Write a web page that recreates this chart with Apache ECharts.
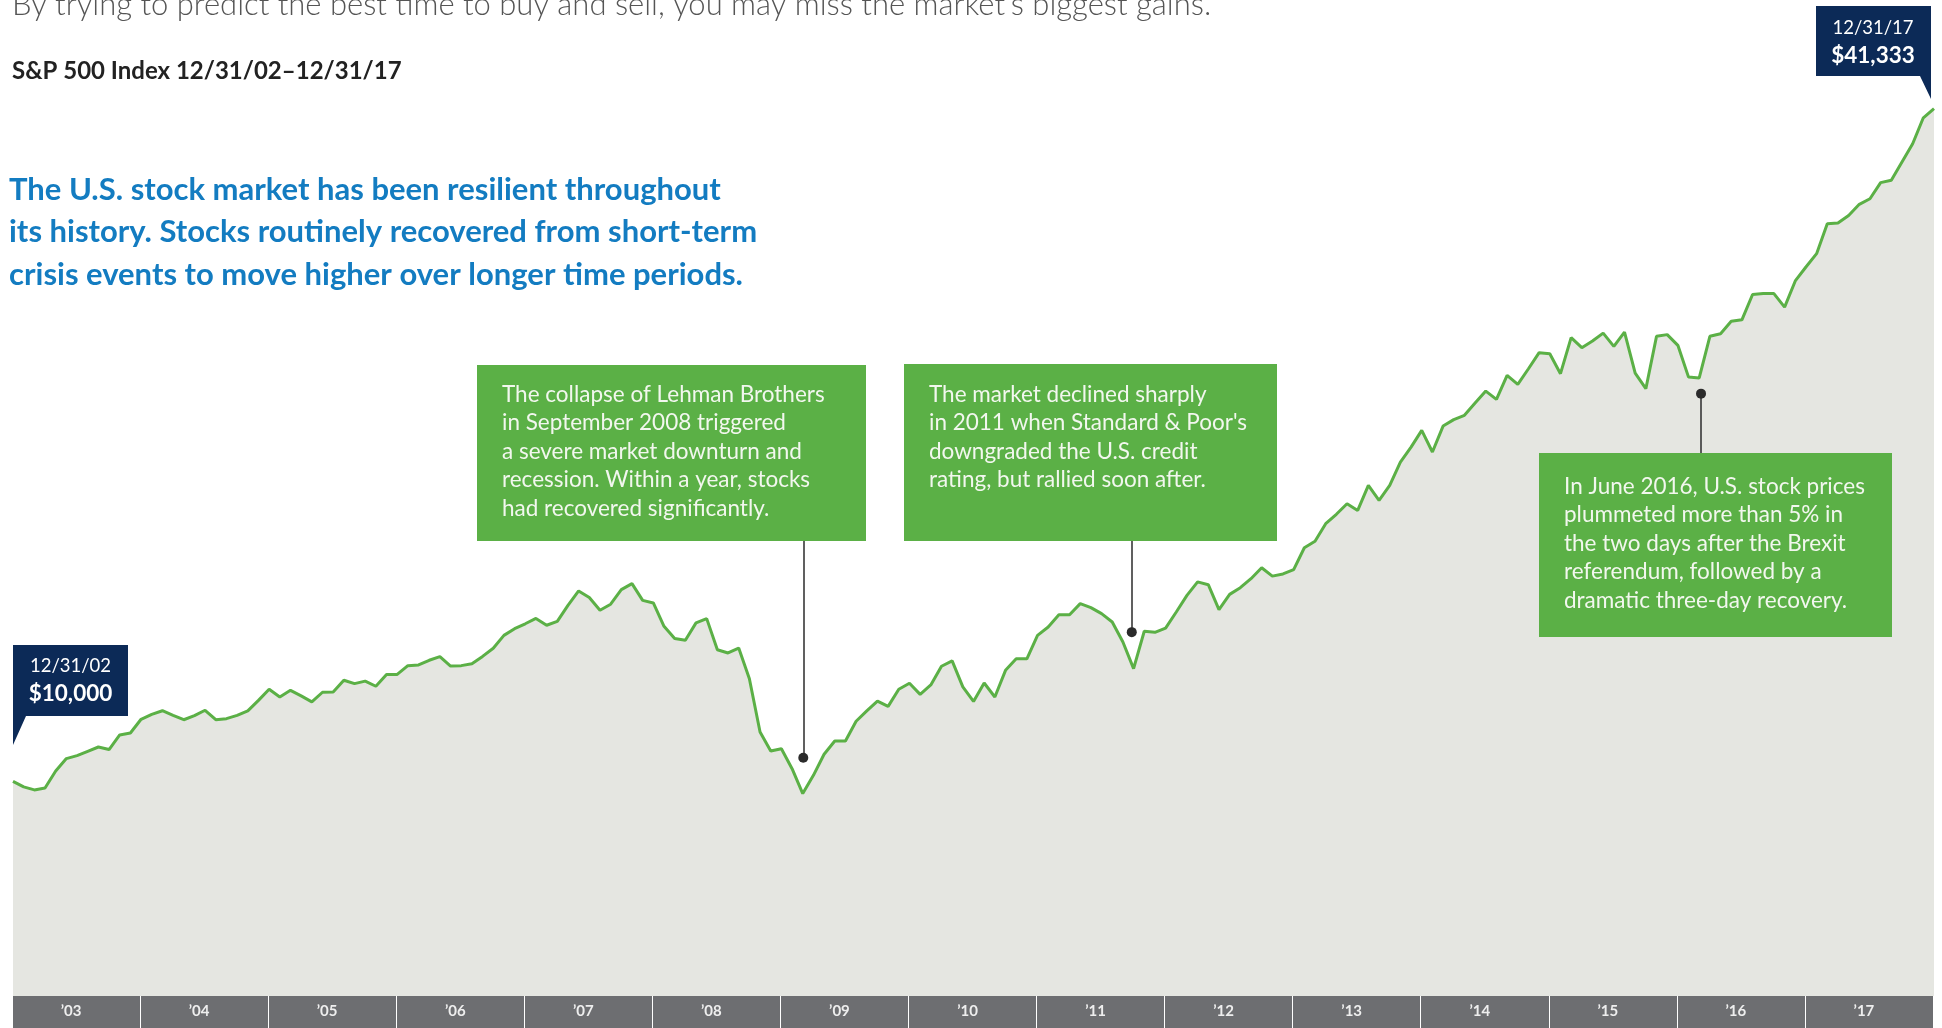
<!DOCTYPE html>
<html>
<head>
    <meta charset="utf-8">
    <script src="https://cdn.jsdelivr.net/npm/echarts@6.0.0/dist/echarts.min.js"></script>
    <style>
        html, body { margin: 0; padding: 0; background: #ffffff; }
        #main { width: 1942px; height: 1028px; }
    </style>
</head>
<body>
    <div id="main"></div>
    <script type="text/javascript">
        // growth of $10,000, month-end values, 12/31/02 .. 12/31/17 (181 points)
        var values2003 = [10000, 9740, 9600, 9690, 10480, 11060, 11200, 11400, 11600, 11480, 12160, 12250, 12890];
        var values2004 = [13120, 13290, 13070, 12870, 13060, 13310, 12870, 12920, 13070, 13280, 13770, 14290];
        var values2005 = [13930, 14240, 13980, 13700, 14150, 14160, 14710, 14550, 14670, 14430, 14980, 14980];
        var values2006 = [15390, 15420, 15640, 15810, 15370, 15390, 15480, 15820, 16200, 16800, 17110, 17340];
        var values2007 = [17590, 17270, 17450, 18200, 18870, 18560, 17970, 18250, 18930, 19210, 18430, 18310];
        var values2008 = [17220, 16650, 16570, 17380, 17580, 16130, 15980, 16210, 14780, 12300, 11410, 11520];
        var values2009 = [10590, 9430, 10280, 11260, 11880, 11880, 12800, 13280, 13740, 13490, 14290, 14570];
        var values2010 = [14050, 14490, 15360, 15610, 14400, 13720, 14580, 13930, 15170, 15710, 15710, 16800];
        var values2011 = [17190, 17760, 17760, 18280, 18090, 17810, 17420, 16490, 15250, 16990, 16940, 17140];
        var values2012 = [17890, 18660, 19290, 19160, 18000, 18710, 19020, 19440, 19950, 19560, 19660, 19860];
        var values2013 = [20880, 21180, 22000, 22440, 22930, 22620, 23790, 23090, 23790, 24870, 25570, 26350];
        var values2014 = [25340, 26550, 26850, 27050, 27620, 28180, 27790, 28910, 28490, 29220, 29970, 29920];
        var values2015 = [28990, 30670, 30200, 30510, 30880, 30260, 30930, 29020, 28290, 30730, 30810, 30310];
        var values2016 = [28830, 28790, 30730, 30850, 31430, 31500, 32680, 32720, 32720, 32090, 33310, 33960];
        var values2017 = [34580, 35980, 36010, 36360, 36880, 37140, 37890, 38000, 38850, 39700, 40910, 41333];

        var yearLabels = ['\u201903', '\u201904', '\u201905', '\u201906', '\u201907', '\u201908', '\u201909', '\u201910',
            '\u201911', '\u201912', '\u201913', '\u201914', '\u201915', '\u201916', '\u201917'];

        // callouts: month index of the leader, dot value, end value
        var calloutMonths = [74.05, 104.83, 158.17];
        var calloutDots = [11100, 16950, 28060];
        var calloutEnds = [21220, 21220, 25290];

        var growth = [].concat(values2003, values2004, values2005, values2006, values2007, values2008,
            values2009, values2010, values2011, values2012, values2013, values2014, values2015,
            values2016, values2017);

        var FONT = 'Lato, "Noto Sans", sans-serif';
        var GREEN = '#5bb046';
        var NAVY = '#0c2a57';

        var leaderData = calloutMonths.map(function (m, k) {
            return [
                { coord: [m, calloutDots[k]], symbol: 'circle', symbolSize: 10 },
                { coord: [m, calloutEnds[k]], symbol: 'none' }
            ];
        });

        function boxText(x, y, txt) {
            return {
                type: 'text', z: 110,
                style: {
                    x: x, y: y, text: txt, fill: '#f2f7ee',
                    font: '22.5px ' + FONT, lineHeight: 28.5,
                    textAlign: 'left', textVerticalAlign: 'top'
                }
            };
        }

        var myChart = echarts.init(document.getElementById('main'));
        var option = {
            animation: false,
            backgroundColor: '#ffffff',
            grid: [
                { left: 13, right: 8, top: 30, bottom: 32 },
                { left: 12, right: 9, top: 996, height: 32, show: true, backgroundColor: '#6d6e71', borderWidth: 0 }
            ],
            xAxis: [
                { type: 'value', gridIndex: 0, min: 0, max: 180, show: false },
                {
                    type: 'category', gridIndex: 1, data: yearLabels, boundaryGap: true,
                    axisLine: { show: false }, axisTick: { show: false },
                    splitLine: { show: true, interval: 0, lineStyle: { color: '#ffffff', width: 1 } },
                    axisLabel: {
                        inside: true, interval: 0, margin: 17, verticalAlign: 'middle',
                        padding: [0, 10, 0, 0],
                        color: '#eeeeee', fontWeight: 'bold', fontSize: 15, fontFamily: FONT
                    }
                }
            ],
            yAxis: [
                { type: 'value', gridIndex: 0, min: 0, max: 45000, show: false },
                { type: 'value', gridIndex: 1, show: false }
            ],
            series: [{
                type: 'line',
                xAxisIndex: 0,
                yAxisIndex: 0,
                data: growth.map(function (v, i) { return [i, v]; }),
                symbol: 'none',
                lineStyle: { color: GREEN, width: 3 },
                areaStyle: { color: '#e5e6e1', opacity: 1 },
                markLine: {
                    silent: true,
                    animation: false,
                    label: { show: false },
                    lineStyle: { color: '#2b2b2b', width: 1.5, type: 'solid' },
                    itemStyle: { color: '#1f1f1f' },
                    data: leaderData
                }
            }],
            graphic: [
                {
                    type: 'text', z: 100,
                    style: { x: 12, y: 5, text: 'By trying to predict the best time to buy and sell, you may miss the market\u2019s biggest gains.',
                        font: '300 31px ' + FONT, fill: '#555555', textVerticalAlign: 'middle' }
                },
                {
                    type: 'text', z: 100,
                    style: { x: 12, y: 71, text: 'S&P 500 Index 12/31/02\u201312/31/17',
                        font: 'bold 24px ' + FONT, fill: '#222222', textVerticalAlign: 'middle' }
                },
                {
                    type: 'text', z: 100,
                    style: { x: 9, y: 168.5, lineHeight: 42.5,
                        text: 'The U.S. stock market has been resilient throughout\nits history. Stocks routinely recovered from short-term\ncrisis events to move higher over longer time periods.',
                        font: 'bold 31px ' + FONT, fill: '#137cc1', textVerticalAlign: 'top' }
                },
                // start / end value tags
                {
                    type: 'polygon', z: 100,
                    shape: { points: [[13, 645], [128, 645], [128, 716], [26, 716], [13, 745]] },
                    style: { fill: NAVY }
                },
                {
                    type: 'text', z: 101,
                    style: { x: 70.5, y: 666, text: '12/31/02', font: '18.5px ' + FONT, fill: '#ffffff',
                        textAlign: 'center', textVerticalAlign: 'middle' }
                },
                {
                    type: 'text', z: 101,
                    style: { x: 70.5, y: 694, text: '$10,000', font: 'bold 22.5px ' + FONT, fill: '#ffffff',
                        textAlign: 'center', textVerticalAlign: 'middle' }
                },
                {
                    type: 'polygon', z: 100,
                    shape: { points: [[1816, 6], [1931, 6], [1931, 99], [1920, 76], [1816, 76]] },
                    style: { fill: NAVY }
                },
                {
                    type: 'text', z: 101,
                    style: { x: 1873, y: 28, text: '12/31/17', font: '18.5px ' + FONT, fill: '#ffffff',
                        textAlign: 'center', textVerticalAlign: 'middle' }
                },
                {
                    type: 'text', z: 101,
                    style: { x: 1873, y: 56, text: '$41,333', font: 'bold 22.5px ' + FONT, fill: '#ffffff',
                        textAlign: 'center', textVerticalAlign: 'middle' }
                },
                // event boxes
                { type: 'rect', z: 100, shape: { x: 477, y: 365, width: 389, height: 176 }, style: { fill: GREEN } },
                boxText(502, 380, 'The collapse of Lehman Brothers\nin September 2008 triggered\na severe market downturn and\nrecession. Within a year, stocks\nhad recovered significantly.'),
                { type: 'rect', z: 100, shape: { x: 904, y: 364, width: 373, height: 177 }, style: { fill: GREEN } },
                boxText(929, 380, 'The market declined sharply\nin 2011 when Standard & Poor\'s\ndowngraded the U.S. credit\nrating, but rallied soon after.'),
                { type: 'rect', z: 100, shape: { x: 1539, y: 453, width: 353, height: 184 }, style: { fill: GREEN } },
                boxText(1564, 472, 'In June 2016, U.S. stock prices\nplummeted more than 5% in\nthe two days after the Brexit\nreferendum, followed by a\ndramatic three-day recovery.')
            ]
        };
        myChart.setOption(option);

        window.addEventListener('resize', function () {
            myChart.resize();
        });
    </script>
</body>
</html>
